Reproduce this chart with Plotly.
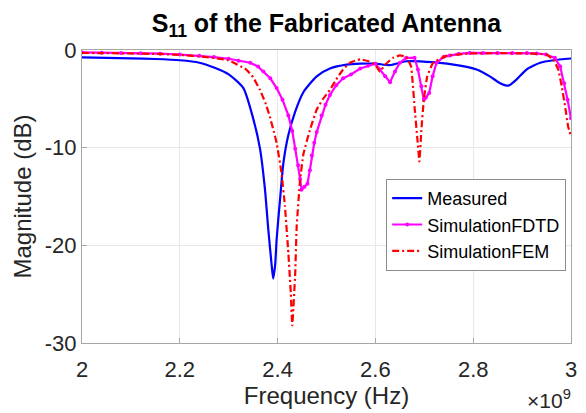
import plotly.graph_objects as go

# Frequency in units of 1e9 Hz
meas_f = [2.00, 2.05, 2.10, 2.15, 2.20, 2.24, 2.27, 2.30, 2.33, 2.35, 2.364, 2.374, 2.381, 2.388,
          2.391, 2.395, 2.398, 2.405, 2.412, 2.422, 2.436, 2.453, 2.480, 2.507, 2.541, 2.569, 2.60,
          2.63, 2.663, 2.718, 2.773, 2.807, 2.834, 2.855, 2.872, 2.889, 2.909, 2.937, 2.964, 3.0]
meas_db = [-0.75, -0.8, -0.85, -0.92, -1.05, -1.3, -1.8, -2.5, -3.9, -7.0, -10.1, -14.2, -18.4, -22.1,
           -23.4, -22.0, -19.4, -15.3, -11.5, -8.7, -6.3, -4.3, -2.7, -1.9, -1.5, -1.4, -1.4,
           -1.55, -1.15, -1.25, -1.6, -2.0, -2.7, -3.4, -3.65, -3.0, -2.0, -1.3, -1.05, -0.87]

fdtd_f = [2.00, 2.04, 2.08, 2.12, 2.16, 2.20, 2.24, 2.27, 2.30, 2.32, 2.344, 2.36, 2.371, 2.385,
          2.398, 2.41, 2.422, 2.43, 2.436, 2.442, 2.446, 2.449, 2.455, 2.461, 2.466, 2.470, 2.475,
          2.480, 2.490, 2.498, 2.507, 2.52, 2.534, 2.55, 2.569, 2.585, 2.600, 2.609, 2.620, 2.630,
          2.640, 2.650, 2.663, 2.680, 2.687, 2.694, 2.699, 2.703, 2.710, 2.717, 2.725, 2.74, 2.752,
          2.77, 2.793, 2.82, 2.85, 2.88, 2.91, 2.93, 2.949, 2.967, 2.978, 2.986, 2.993, 3.0]
fdtd_db = [-0.25, -0.27, -0.3, -0.33, -0.38, -0.46, -0.58, -0.72, -0.9, -1.1, -1.3, -1.7, -2.2, -2.9,
           -3.9, -5.1, -6.7, -8.3, -10.1, -11.8, -13.2, -14.3, -14.0, -13.7, -12.3, -10.8, -9.5,
           -8.4, -6.7, -5.6, -4.6, -3.6, -2.9, -2.5, -1.9, -1.6, -1.4, -2.0, -2.7, -3.3,
           -2.2, -1.3, -0.8, -0.8, -2.0, -3.7, -5.1, -4.9, -4.4, -2.7, -1.3, -0.7, -0.56,
           -0.4, -0.3, -0.3, -0.3, -0.3, -0.3, -0.35, -0.46, -0.8, -1.7, -3.4, -5.1, -7.0]

fem_f = [2.00, 2.05, 2.10, 2.15, 2.20, 2.25, 2.30, 2.336, 2.35, 2.364, 2.375, 2.384, 2.392, 2.398,
         2.408, 2.415, 2.422, 2.427, 2.430, 2.436, 2.439, 2.446, 2.453, 2.466, 2.480, 2.493, 2.507,
         2.52, 2.534, 2.548, 2.569, 2.586, 2.600, 2.609, 2.620, 2.636, 2.650, 2.663, 2.673, 2.680,
         2.686, 2.690, 2.694, 2.699, 2.706, 2.718, 2.745, 2.793, 2.85, 2.909, 2.949, 2.964, 2.974,
         2.981, 2.988, 2.994, 3.0]
fem_db = [-0.3, -0.32, -0.36, -0.4, -0.5, -0.7, -1.05, -2.0, -2.8, -4.1, -5.4, -6.8, -8.3, -9.5,
          -12.6, -16.0, -20.8, -24.9, -28.2, -22.9, -18.1, -13.3, -10.6, -8.2, -6.1, -5.0, -4.1,
          -3.0, -2.0, -1.3, -0.95, -1.15, -1.5, -2.2, -1.5, -0.8, -0.56, -0.7, -1.7, -5.8,
          -9.2, -11.4, -8.2, -5.1, -2.7, -1.3, -0.6, -0.36, -0.33, -0.35, -0.46, -0.98, -2.0,
          -3.7, -5.8, -7.8, -8.85]

x_ticks = [2.0, 2.2, 2.4, 2.6, 2.8, 3.0]
x_tick_labels = ["2", "2.2", "2.4", "2.6", "2.8", "3"]
y_ticks = [-30, -20, -10, 0]
y_tick_labels = ["-30", "-20", "-10", "0"]

FONT = "Liberation Sans, Arial, Helvetica, sans-serif"
TXT = "#262626"
AX = "#a6a6a6"

fig = go.Figure()
fig.add_trace(go.Scatter(x=meas_f, y=meas_db, name="Measured", mode="lines",
                         line=dict(color="#0000ff", width=2.2, shape="spline", smoothing=0.6)))
fig.add_trace(go.Scatter(x=fdtd_f, y=fdtd_db, name="SimulationFDTD", mode="lines+markers",
                         line=dict(color="#ff00ff", width=2.2),
                         marker=dict(color="#ff00ff", size=4)))
fig.add_trace(go.Scatter(x=fem_f, y=fem_db, name="SimulationFEM", mode="lines",
                         line=dict(color="#ff0000", width=2.2, dash="7px,3px,2px,3px",
                                   shape="spline", smoothing=0.3)))

fig.update_layout(
    width=586, height=413,
    margin=dict(l=82, r=15, t=50, b=70),
    paper_bgcolor="white", plot_bgcolor="white",
    font=dict(family=FONT, color=TXT, size=22),
    title=dict(text="<b>S<sub>11</sub> of the Fabricated Antenna</b>",
               x=(82 + 571) / 2 / 586, xanchor="center",
               y=1 - 23 / 413, yref="container", yanchor="middle",
               font=dict(size=25, color="black", family=FONT), automargin=False),
    legend=dict(x=0.622, y=0.56, xanchor="left", yanchor="top",
                bgcolor="white", bordercolor="#8c8c8c", borderwidth=1,
                font=dict(size=18, color="black"), tracegroupgap=0,
                itemwidth=30),
    showlegend=True,
)
fig.update_xaxes(range=[2.0, 3.0], tickvals=x_ticks, ticktext=x_tick_labels,
                 automargin=False, ticklabelstandoff=7,
                 showgrid=True, gridcolor="#e8e8e8", zeroline=False,
                 showline=True, mirror=True, linecolor=AX, linewidth=1,
                 ticks="inside", ticklen=5, tickcolor=AX,
                 title=dict(text="Frequency (Hz)", font=dict(size=24), standoff=4),
                 tickfont=dict(size=22))
fig.update_yaxes(range=[-30, 0], tickvals=y_ticks, ticktext=y_tick_labels,
                 automargin=False,
                 showgrid=True, gridcolor="#e8e8e8", zeroline=False,
                 showline=True, mirror=True, linecolor=AX, linewidth=1,
                 ticks="inside", ticklen=5, tickcolor=AX,
                 title=dict(text="Magnitude (dB)", font=dict(size=24), standoff=6),
                 tickfont=dict(size=22))
fig.add_annotation(text="×10<sup>9</sup>", xref="paper", yref="paper",
                   x=1.004, y=-0.19, xanchor="right", yanchor="middle",
                   showarrow=False, font=dict(size=21, color=TXT))

fig.write_html("out.html", config={"displayModeBar": False},
               post_script="document.body.style.margin='0';document.body.style.padding='0';")
